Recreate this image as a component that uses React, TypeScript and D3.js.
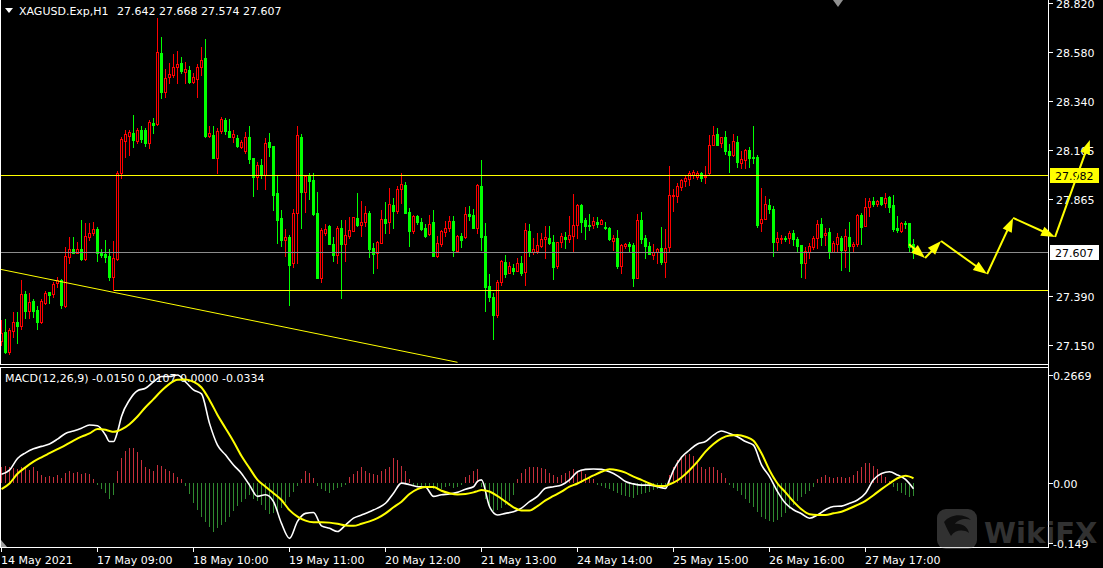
import React from "react";
import * as d3 from "d3";

// ---------------- DATA ----------------
const opens = [
  27.172, 27.215, 27.118, 27.220, 27.261, 27.245, 27.399, 27.318, 27.365, 27.321,
  27.264, 27.357, 27.408, 27.399, 27.451, 27.468, 27.341, 27.582, 27.617, 27.601,
  27.619, 27.569, 27.679, 27.696, 27.715, 27.598, 27.595, 27.585, 27.481, 27.569,
  27.992, 28.146, 28.172, 28.187, 28.148, 28.200, 28.200, 28.138, 28.233, 28.231,
  28.578, 28.387, 28.457, 28.469, 28.509, 28.526, 28.485, 28.493, 28.436, 28.448,
  28.506, 28.550, 28.172, 28.176, 28.062, 28.197, 28.249, 28.195, 28.168, 28.159,
  28.119, 28.100, 28.164, 28.062, 27.972, 28.029, 27.981, 28.140, 28.122, 27.891,
  27.769, 27.663, 27.679, 27.549, 27.793, 28.168, 27.899, 27.976, 27.956, 27.793,
  27.479, 27.699, 27.731, 27.644, 27.590, 27.723, 27.642, 27.684, 27.709, 27.772,
  27.736, 27.749, 27.793, 27.622, 27.598, 27.650, 27.766, 27.753, 27.834, 27.806,
  27.914, 27.932, 27.798, 27.709, 27.780, 27.753, 27.722, 27.691, 27.751, 27.585,
  27.642, 27.704, 27.720, 27.756, 27.611, 27.683, 27.676, 27.788, 27.784, 27.723,
  27.927, 27.683, 27.438, 27.386, 27.297, 27.460, 27.556, 27.504, 27.528, 27.510,
  27.549, 27.508, 27.707, 27.606, 27.608, 27.635, 27.670, 27.675, 27.652, 27.538,
  27.652, 27.679, 27.668, 27.684, 27.736, 27.834, 27.761, 27.736, 27.736, 27.753,
  27.743, 27.728, 27.722, 27.660, 27.675, 27.538, 27.635, 27.642, 27.639, 27.479,
  27.761, 27.673, 27.635, 27.591, 27.604, 27.626, 27.554, 27.631, 27.880, 27.880,
  27.923, 27.953, 27.959, 27.981, 27.972, 27.989, 27.972, 27.989, 28.127, 28.181,
  28.135, 28.164, 28.099, 28.078, 28.142, 28.041, 28.054, 28.102, 28.068, 28.067,
  27.745, 27.767, 27.832, 27.814, 27.655, 27.666, 27.671, 27.675, 27.699, 27.666,
  27.639, 27.552, 27.606, 27.631, 27.671, 27.741, 27.689, 27.701, 27.606, 27.642,
  27.675, 27.614, 27.679, 27.635, 27.644, 27.785, 27.731, 27.823, 27.853, 27.839,
  27.871, 27.842, 27.871, 27.834, 27.720, 27.709, 27.745, 27.745, 27.642,
];
const highs = [
  27.272, 27.276, 27.232, 27.311, 27.311, 27.468, 27.416, 27.403, 27.377, 27.341,
  27.373, 27.414, 27.411, 27.460, 27.484, 27.471, 27.631, 27.679, 27.679, 27.655,
  27.761, 27.748, 27.748, 27.753, 27.728, 27.621, 27.663, 27.621, 27.660, 28.002,
  28.168, 28.200, 28.200, 28.272, 28.208, 28.220, 28.208, 28.249, 28.257, 28.745,
  28.656, 28.496, 28.526, 28.571, 28.584, 28.555, 28.534, 28.513, 28.477, 28.522,
  28.604, 28.643, 28.220, 28.220, 28.208, 28.265, 28.260, 28.252, 28.200, 28.176,
  28.151, 28.192, 28.220, 28.062, 28.046, 28.057, 28.160, 28.184, 28.122, 27.976,
  27.810, 27.715, 27.688, 27.813, 28.220, 28.181, 27.981, 27.989, 27.989, 27.899,
  27.723, 27.740, 27.736, 27.679, 27.731, 27.761, 27.761, 27.777, 27.777, 27.894,
  27.855, 27.829, 27.805, 27.647, 27.658, 27.810, 27.850, 27.919, 27.870, 27.927,
  27.989, 27.948, 27.821, 27.785, 27.785, 27.772, 27.740, 27.785, 27.810, 27.683,
  27.712, 27.756, 27.780, 27.780, 27.688, 27.696, 27.823, 27.829, 27.813, 27.937,
  28.054, 27.745, 27.497, 27.406, 27.468, 27.565, 27.590, 27.554, 27.546, 27.574,
  27.585, 27.745, 27.741, 27.671, 27.699, 27.699, 27.731, 27.731, 27.688, 27.655,
  27.696, 27.702, 27.780, 27.888, 27.839, 27.839, 27.769, 27.790, 27.774, 27.774,
  27.767, 27.751, 27.728, 27.688, 27.712, 27.644, 27.650, 27.655, 27.650, 27.790,
  27.798, 27.689, 27.655, 27.644, 27.622, 27.728, 27.717, 28.026, 27.912, 27.940,
  27.961, 27.981, 28.000, 28.005, 28.002, 27.997, 28.024, 28.176, 28.220, 28.208,
  28.168, 28.194, 28.132, 28.181, 28.171, 28.098, 28.107, 28.116, 28.220, 28.078,
  27.915, 27.878, 27.863, 27.829, 27.701, 27.688, 27.683, 27.709, 27.712, 27.676,
  27.639, 27.631, 27.647, 27.683, 27.761, 27.771, 27.720, 27.720, 27.658, 27.696,
  27.683, 27.715, 27.753, 27.655, 27.788, 27.793, 27.866, 27.866, 27.871, 27.858,
  27.875, 27.894, 27.878, 27.883, 27.780, 27.749, 27.756, 27.748, 27.668,
];
const lows = [
  27.150, 27.113, 27.105, 27.191, 27.162, 27.228, 27.281, 27.281, 27.289, 27.227,
  27.256, 27.349, 27.354, 27.386, 27.435, 27.329, 27.334, 27.549, 27.598, 27.598,
  27.565, 27.565, 27.663, 27.687, 27.562, 27.582, 27.557, 27.468, 27.419, 27.565,
  27.964, 28.070, 28.078, 28.119, 28.135, 28.143, 28.122, 28.111, 28.187, 28.225,
  28.355, 28.360, 28.428, 28.457, 28.428, 28.477, 28.428, 28.431, 28.428, 28.360,
  28.469, 28.168, 28.168, 28.062, 27.989, 28.184, 28.181, 28.164, 28.143, 28.119,
  28.111, 28.086, 28.041, 27.878, 27.910, 27.964, 27.910, 28.073, 27.810, 27.650,
  27.634, 27.585, 27.346, 27.530, 27.549, 27.723, 27.801, 27.862, 27.785, 27.479,
  27.460, 27.688, 27.644, 27.562, 27.552, 27.381, 27.561, 27.671, 27.709, 27.731,
  27.683, 27.731, 27.582, 27.504, 27.525, 27.647, 27.696, 27.699, 27.720, 27.797,
  27.845, 27.797, 27.635, 27.699, 27.741, 27.712, 27.679, 27.688, 27.585, 27.578,
  27.634, 27.683, 27.709, 27.587, 27.606, 27.631, 27.671, 27.761, 27.723, 27.699,
  27.614, 27.318, 27.367, 27.178, 27.289, 27.443, 27.484, 27.504, 27.497, 27.510,
  27.494, 27.443, 27.585, 27.595, 27.598, 27.631, 27.577, 27.644, 27.473, 27.528,
  27.631, 27.626, 27.655, 27.606, 27.671, 27.704, 27.670, 27.712, 27.720, 27.728,
  27.741, 27.715, 27.663, 27.614, 27.528, 27.504, 27.622, 27.611, 27.440, 27.476,
  27.650, 27.577, 27.593, 27.569, 27.549, 27.546, 27.484, 27.606, 27.806, 27.850,
  27.907, 27.927, 27.932, 27.964, 27.959, 27.953, 27.940, 27.985, 28.127, 28.127,
  28.116, 28.083, 27.997, 28.073, 28.021, 28.016, 28.016, 28.021, 28.041, 27.728,
  27.709, 27.766, 27.797, 27.587, 27.614, 27.650, 27.660, 27.647, 27.639, 27.606,
  27.484, 27.479, 27.577, 27.619, 27.622, 27.639, 27.639, 27.577, 27.606, 27.606,
  27.517, 27.530, 27.512, 27.603, 27.635, 27.644, 27.731, 27.780, 27.829, 27.829,
  27.834, 27.823, 27.801, 27.707, 27.704, 27.704, 27.720, 27.606, 27.574,
];
const closes = [
  27.207, 27.118, 27.224, 27.261, 27.243, 27.399, 27.316, 27.360, 27.316, 27.264,
  27.365, 27.403, 27.394, 27.446, 27.468, 27.346, 27.585, 27.617, 27.601, 27.617,
  27.569, 27.683, 27.696, 27.715, 27.598, 27.590, 27.582, 27.481, 27.574, 27.989,
  28.155, 28.181, 28.189, 28.151, 28.200, 28.156, 28.138, 28.239, 28.225, 28.581,
  28.387, 28.452, 28.472, 28.506, 28.521, 28.490, 28.496, 28.436, 28.457, 28.506,
  28.542, 28.172, 28.184, 28.065, 28.197, 28.252, 28.197, 28.168, 28.181, 28.122,
  28.142, 28.164, 28.059, 27.972, 28.029, 27.981, 28.135, 28.119, 27.883, 27.761,
  27.663, 27.679, 27.541, 27.793, 28.176, 27.899, 27.976, 27.951, 27.788, 27.479,
  27.712, 27.715, 27.644, 27.590, 27.723, 27.644, 27.688, 27.712, 27.774, 27.736,
  27.753, 27.793, 27.619, 27.595, 27.655, 27.766, 27.748, 27.839, 27.806, 27.912,
  27.935, 27.797, 27.709, 27.780, 27.753, 27.717, 27.683, 27.740, 27.585, 27.647,
  27.707, 27.720, 27.756, 27.614, 27.683, 27.663, 27.788, 27.782, 27.723, 27.932,
  27.676, 27.435, 27.386, 27.297, 27.456, 27.559, 27.497, 27.536, 27.513, 27.549,
  27.504, 27.712, 27.606, 27.618, 27.637, 27.668, 27.679, 27.647, 27.533, 27.652,
  27.683, 27.668, 27.688, 27.736, 27.834, 27.753, 27.731, 27.731, 27.756, 27.743,
  27.761, 27.720, 27.666, 27.675, 27.538, 27.639, 27.642, 27.635, 27.479, 27.761,
  27.670, 27.635, 27.593, 27.606, 27.619, 27.554, 27.626, 27.883, 27.883, 27.927,
  27.956, 27.967, 27.989, 27.997, 27.989, 27.967, 27.976, 28.127, 28.176, 28.127,
  28.164, 28.099, 28.078, 28.145, 28.046, 28.057, 28.102, 28.065, 28.065, 27.736,
  27.764, 27.839, 27.814, 27.655, 27.671, 27.675, 27.666, 27.699, 27.666, 27.635,
  27.552, 27.609, 27.634, 27.671, 27.741, 27.679, 27.696, 27.606, 27.650, 27.676,
  27.614, 27.683, 27.635, 27.644, 27.785, 27.728, 27.823, 27.852, 27.839, 27.852,
  27.839, 27.866, 27.826, 27.717, 27.712, 27.745, 27.741, 27.631, 27.607,
];

const priceTicks = [28.82, 28.58, 28.34, 28.105, 27.865, 27.39, 27.15];
const priceTickLabels = ["28.820", "28.580", "28.340", "28.105", "27.865", "27.390", "27.150"];

const timeBars = [0, 24, 48, 72, 96, 120, 144, 168, 192, 216];
const timeLabels = [
  "14 May 2021", "17 May 09:00", "18 May 10:00", "19 May 11:00", "20 May 12:00",
  "21 May 13:00", "24 May 14:00", "25 May 15:00", "26 May 16:00", "27 May 17:00",
];

const macdTicks = [0.2669, 0, -0.149];
const macdTickLabels = ["0.2669", "0.00", "-0.149"];

const macdIdx = [
  0, 2, 4, 6, 8, 10, 12, 14, 16, 18, 20, 22, 24, 26, 27, 28, 29, 30, 32, 34,
  36, 38, 40, 42, 44, 46, 48, 50, 52, 54, 56, 58, 60, 62, 64, 66, 68, 70, 72, 74,
  76, 78, 80, 82, 84, 86, 88, 90, 92, 94, 96, 98, 100, 102, 104, 106, 108, 110, 112, 114,
  116, 118, 119, 120, 122, 124, 126, 128, 130, 132, 134, 136, 138, 140, 142, 144, 146, 148, 150, 152,
  154, 156, 158, 160, 162, 164, 166, 167, 168, 170, 172, 174, 176, 178, 180, 182, 184, 186, 188, 190,
  192, 194, 196, 198, 200, 202, 204, 206, 208, 210, 212, 214, 216, 218, 220, 222, 224, 226, 228,
];
const macdMain = [
  0.021, 0.031, 0.060, 0.074, 0.084, 0.090, 0.096, 0.108, 0.122, 0.128, 0.135, 0.143, 0.141, 0.118, 0.102, 0.102, 0.126, 0.164, 0.205, 0.228,
  0.234, 0.250, 0.263, 0.263, 0.267, 0.250, 0.230, 0.220, 0.147, 0.093, 0.069, 0.044, 0.023, -0.006, -0.034, -0.030, -0.047, -0.101, -0.138, -0.096,
  -0.076, -0.074, -0.107, -0.113, -0.121, -0.105, -0.088, -0.080, -0.072, -0.063, -0.051, -0.026, -0.001, -0.005, -0.010, -0.011, -0.034, -0.030, -0.028, -0.024,
  -0.016, -0.010, 0.003, 0.007, -0.059, -0.080, -0.076, -0.072, -0.063, -0.047, -0.034, -0.014, -0.010, -0.006, 0.007, 0.027, 0.033, 0.034, 0.033, 0.027,
  0.017, 0.003, -0.003, -0.006, -0.006, -0.010, -0.014, 0.007, 0.031, 0.063, 0.081, 0.096, 0.102, 0.118, 0.128, 0.122, 0.114, 0.102, 0.093, 0.044,
  0.015, -0.022, -0.051, -0.067, -0.077, -0.088, -0.080, -0.067, -0.059, -0.058, -0.051, -0.043, -0.026, 0.007, 0.023, 0.027, 0.019, 0.008, -0.015,
];
const macdSignal = [
  -0.016, -0.002, 0.022, 0.038, 0.052, 0.063, 0.073, 0.083, 0.093, 0.104, 0.114, 0.122, 0.133, 0.131, 0.128, 0.126, 0.128, 0.132, 0.145, 0.164,
  0.187, 0.207, 0.228, 0.245, 0.255, 0.256, 0.250, 0.236, 0.205, 0.168, 0.135, 0.102, 0.066, 0.036, 0.007, -0.010, -0.026, -0.043, -0.068, -0.084,
  -0.094, -0.098, -0.098, -0.099, -0.102, -0.106, -0.107, -0.102, -0.096, -0.088, -0.076, -0.061, -0.047, -0.028, -0.016, -0.011, -0.011, -0.020, -0.026, -0.029,
  -0.028, -0.024, -0.021, -0.018, -0.022, -0.033, -0.047, -0.061, -0.069, -0.069, -0.058, -0.044, -0.033, -0.022, -0.010, -0.002, 0.008, 0.018, 0.027, 0.033,
  0.031, 0.025, 0.015, 0.007, -0.002, -0.008, -0.008, -0.004, 0.000, 0.013, 0.031, 0.052, 0.077, 0.096, 0.110, 0.117, 0.118, 0.114, 0.104, 0.073,
  0.031, -0.002, -0.024, -0.047, -0.066, -0.078, -0.080, -0.080, -0.076, -0.072, -0.064, -0.055, -0.045, -0.031, -0.016, -0.002, 0.011, 0.017, 0.011,
];
const macdHist = [
  0.040, 0.042, 0.038, 0.036, 0.035, 0.038, 0.036, 0.032, 0.038, 0.030, 0.020, 0.015, 0.016, 0.014, 0.018, 0.012, 0.025, 0.028, 0.025, 0.026, 0.022, 0.025, 0.022, 0.008,
  -0.005, -0.015, -0.025, -0.040, -0.030,
  0.030, 0.060, 0.078, 0.085, 0.085, 0.075, 0.055, 0.040, 0.035, 0.030, 0.045, 0.042, 0.035, 0.030, 0.025, 0.015, 0.008,
  -0.008, -0.028, -0.050, -0.068, -0.085, -0.098, -0.110, -0.122, -0.112, -0.105, -0.098, -0.085, -0.070, -0.058, -0.048, -0.040, -0.030, -0.040, -0.045, -0.055, -0.068, -0.078, -0.075, -0.070, -0.062, -0.050, -0.035, -0.022, -0.008,
  0.010, 0.030, 0.025, 0.012,
  -0.008, -0.015, -0.020, -0.025, -0.018, -0.012, -0.010, -0.005,
  0.015, 0.022, 0.030, 0.038, 0.030, 0.025, 0.022, 0.020, 0.030, 0.035, 0.040, 0.060, 0.055, 0.042, 0.030, 0.010,
  -0.005, -0.010, -0.015, -0.012, -0.008, -0.015, -0.018, -0.015, -0.010, -0.008, -0.012, -0.010, -0.005,
  0.015, 0.020, 0.030, 0.035,
  -0.010, -0.040, -0.060, -0.070, -0.068, -0.062, -0.055, -0.045, -0.030,
  0.010, 0.025, 0.035, 0.038, 0.040, 0.038, 0.036, 0.035, 0.025, 0.018, 0.015, 0.018, 0.025, 0.030, 0.035, 0.030, 0.028, 0.022, 0.015, 0.010,
  -0.005, -0.008, -0.012, -0.015, -0.020, -0.025, -0.030, -0.032, -0.035, -0.038, -0.030, -0.028, -0.025, -0.022, -0.018, -0.015, -0.012, -0.008,
  0.020, 0.040, 0.055, 0.062, 0.068, 0.070, 0.065, 0.050, 0.040, 0.035, 0.038, 0.040, 0.032, 0.025, 0.012,
  -0.005, -0.012, -0.020, -0.030, -0.040, -0.050, -0.060, -0.072, -0.085, -0.090, -0.095, -0.098, -0.092, -0.085, -0.075, -0.065, -0.055, -0.045, -0.035, -0.028, -0.020, -0.010,
  0.010, 0.015, 0.018, 0.015, 0.012, 0.015, 0.014, 0.012, 0.015, 0.018, 0.028, 0.040, 0.048, 0.050, 0.042, 0.035, 0.025,
  0.015, 0.005, -0.010, -0.020, -0.025, -0.030, -0.035, -0.033,
];

const resistancePrice = 27.982;
const supportPrice = 27.419;
const supportStartBar = 28;
const bidPrice = 27.607;
const trendBars = [0, 114];
const trendPrices = [27.519, 27.066];
const arrowBars = [226.9, 230.9, 234.9, 246.4, 252.9, 263.4, 272.1];
const arrowPrices = [27.643, 27.575, 27.658, 27.497, 27.771, 27.678, 28.151];

const symbolTitle = "XAGUSD.Exp,H1";
const ohlcTitle = "27.642 27.668 27.574 27.607";
const macdTitle = "MACD(12,26,9) -0.0150 0.0107 0.0000 -0.0334";

// ---------------- LAYOUT ----------------
const W = 1103;
const H = 568;
const AXIS_X = 1048;
const PRICE_BOTTOM = 364;
const MACD_TOP = 367;
const MACD_BOTTOM = 547;
const FONT = "'DejaVu Sans', Verdana, sans-serif";
const BULL = "#ff0000";
const BEAR = "#00ff00";
const YEL = "#ffff00";

function Arrow({ x1, y1, x2, y2 }: { x1: number; y1: number; x2: number; y2: number }) {
  const dx = x2 - x1;
  const dy = y2 - y1;
  const len = Math.hypot(dx, dy);
  const ux = dx / len;
  const uy = dy / len;
  const hl = 14;
  const hw = 5;
  const bx = x2 - ux * hl;
  const by = y2 - uy * hl;
  const p1 = `${bx - uy * hw},${by + ux * hw}`;
  const p2 = `${bx + uy * hw},${by - ux * hw}`;
  return (
    <g>
      <line x1={x1} y1={y1} x2={bx + ux * 2} y2={by + uy * 2} stroke={YEL} strokeWidth={2} />
      <polygon points={`${x2},${y2} ${p1} ${p2}`} fill={YEL} />
    </g>
  );
}

export default function App() {
  const x = d3.scaleLinear().domain([0, 228]).range([1.5, 913.5]);
  const y = d3.scaleLinear().domain([27.15, 28.82]).range([345.1, 3.07]);
  const ym = d3.scaleLinear().domain([-0.149, 0.2669]).range([542.8, 375]);

  const mainLine = d3
    .line<number>()
    .x((_, k) => x(macdIdx[k]))
    .y((v) => ym(v))
    .curve(d3.curveMonotoneX);

  const candles = opens.map((o, i) => {
    const c = closes[i];
    const cx = Math.round(x(i) - 0.5);
    const hy = Math.round(y(highs[i]));
    const ly = Math.round(y(lows[i]));
    const top = Math.round(y(Math.max(o, c)));
    const bot = Math.round(y(Math.min(o, c)));
    const bull = c >= o;
    const col = bull ? BULL : BEAR;
    return (
      <g key={i}>
        <line x1={cx + 0.5} x2={cx + 0.5} y1={hy} y2={ly + 1} stroke={col} strokeWidth={1} />
        {bull ? (
          <rect x={cx - 0.5} y={top + 0.5} width={2} height={Math.max(bot - top, 0)} fill="#000" stroke={col} strokeWidth={1} />
        ) : (
          <rect x={cx - 1} y={top} width={3} height={Math.max(bot - top + 1, 1)} fill={col} />
        )}
      </g>
    );
  });

  const zeroY = ym(0);
  const hist = macdHist.map((v, i) => {
    const cx = Math.round(x(i) - 0.5) + 0.5;
    return (
      <line
        key={i}
        x1={cx}
        x2={cx}
        y1={Math.round(zeroY)}
        y2={Math.round(ym(v))}
        stroke={v >= 0 ? "#c8303c" : "#2f8a2f"}
        strokeWidth={1}
      />
    );
  });

  const arrows = arrowBars.slice(1).map((b, k) => (
    <Arrow
      key={k}
      x1={x(arrowBars[k])}
      y1={y(arrowPrices[k])}
      x2={x(b)}
      y2={y(arrowPrices[k + 1])}
    />
  ));

  const resY = Math.round(y(resistancePrice)) + 0.5;
  const supY = Math.round(y(supportPrice)) + 0.5;
  const bidY = Math.round(y(bidPrice)) + 0.5;

  return (
    <svg
      width={W}
      height={H}
      style={{ position: "absolute", left: 0, top: 0, background: "#000", display: "block" }}
      fontFamily={FONT}
    >
      <defs>
        <clipPath id="pricePane">
          <rect x={0} y={0} width={AXIS_X} height={PRICE_BOTTOM} />
        </clipPath>
        <clipPath id="macdPane">
          <rect x={0} y={MACD_TOP + 1} width={AXIS_X} height={MACD_BOTTOM - MACD_TOP - 1} />
        </clipPath>
      </defs>
      <rect x={0} y={0} width={W} height={H} fill="#000" />

      {/* price pane */}
      <g clipPath="url(#pricePane)" shapeRendering="crispEdges">
        {candles}
      </g>
      <g clipPath="url(#pricePane)">
        <line x1={x(trendBars[0] - 1)} y1={y(trendPrices[0] + (trendPrices[0] - trendPrices[1]) / (trendBars[1] - trendBars[0]))} x2={x(trendBars[1])} y2={y(trendPrices[1])} stroke={YEL} strokeWidth={1} />
        <line x1={0} x2={AXIS_X} y1={resY} y2={resY} stroke={YEL} strokeWidth={1} shapeRendering="crispEdges" />
        <line x1={x(supportStartBar)} x2={AXIS_X} y1={supY} y2={supY} stroke={YEL} strokeWidth={1} shapeRendering="crispEdges" />
        <line x1={0} x2={AXIS_X} y1={bidY} y2={bidY} stroke="#8c8c8c" strokeWidth={1} shapeRendering="crispEdges" />
      </g>

      {/* title */}
      <polygon points="5,8 13,8 9,13" fill="#fff" />
      <text x={19} y={15} fontSize={11} fill="#fff">{symbolTitle}</text>
      <text x={117} y={15} fontSize={11} fill="#fff">{ohlcTitle}</text>

      {/* chart shift marker */}
      <polygon points="833,0 843,0 838,7" fill="#909090" />

      {/* macd pane */}
      <g clipPath="url(#macdPane)" shapeRendering="crispEdges">{hist}</g>
      <text x={5} y={382} fontSize={11} fill="#fff">{macdTitle}</text>
      <g clipPath="url(#macdPane)">
        <path d={mainLine(macdMain) || ""} fill="none" stroke="#ffffff" strokeWidth={1.6} />
        <path d={mainLine(macdSignal) || ""} fill="none" stroke={YEL} strokeWidth={2} />
      </g>

      {/* frames */}
      <g stroke="#fff" strokeWidth={1} shapeRendering="crispEdges" fill="none">
        <line x1={AXIS_X + 0.5} x2={AXIS_X + 0.5} y1={0} y2={MACD_BOTTOM + 1} />
        <line x1={0} x2={AXIS_X + 1} y1={PRICE_BOTTOM + 0.5} y2={PRICE_BOTTOM + 0.5} />
        <line x1={0} x2={AXIS_X + 1} y1={MACD_TOP + 0.5} y2={MACD_TOP + 0.5} />
        <line x1={0} x2={AXIS_X + 1} y1={MACD_BOTTOM + 0.5} y2={MACD_BOTTOM + 0.5} />
        <line x1={0.5} x2={0.5} y1={0} y2={PRICE_BOTTOM} />
        <line x1={0.5} x2={0.5} y1={MACD_TOP} y2={MACD_BOTTOM} />
      </g>

      {/* price axis */}
      {priceTicks.map((p, k) => {
        const ty = Math.round(y(p)) + 0.5;
        return (
          <g key={k}>
            <line x1={AXIS_X + 1} x2={AXIS_X + 5} y1={ty} y2={ty} stroke="#fff" shapeRendering="crispEdges" />
            <text x={1056} y={ty + 4} fontSize={11} fill="#fff">{priceTickLabels[k]}</text>
          </g>
        );
      })}
      {macdTicks.map((v, k) => {
        const ty = Math.round(ym(v)) + 0.5;
        return (
          <g key={k}>
            <line x1={AXIS_X + 1} x2={AXIS_X + 5} y1={ty} y2={ty} stroke="#fff" shapeRendering="crispEdges" />
            <text x={1053} y={ty + 4} fontSize={11} fill="#fff">{macdTickLabels[k]}</text>
          </g>
        );
      })}
      {/* level labels */}
      <rect x={1050} y={resY - 7.5} width={49} height={15} fill={YEL} />
      <text x={1055} y={resY + 4} fontSize={11} fill="#000">{resistancePrice.toFixed(3)}</text>
      <rect x={1050} y={bidY - 7.5} width={49} height={15} fill="#fff" />
      <text x={1055} y={bidY + 4} fontSize={11} fill="#000">{bidPrice.toFixed(3)}</text>

      {/* time axis */}
      {timeBars.map((b, k) => {
        const tx = Math.round(x(b) - 0.5) + 0.5;
        return (
          <g key={k}>
            <line x1={tx} x2={tx} y1={MACD_BOTTOM + 1} y2={MACD_BOTTOM + 5} stroke="#fff" shapeRendering="crispEdges" />
            <text x={tx - 0.5} y={564} fontSize={11} fill="#fff">{timeLabels[k]}</text>
          </g>
        );
      })}
      <polygon points="1,540 1,547 7,547" fill="#a0a0a0" />

      {/* forecast arrows */}
      {arrows}

      {/* watermark */}
      <g opacity={0.32}>
        <rect x={937} y={509} width={40} height={40} rx={9} fill="#9a9a9a" />
        <path d="M944,522 C950,514 964,513 971,520 C966,518 958,519 955,524 C962,523 968,527 969,533 C963,529 955,530 951,536 C948,531 946,527 944,522 Z" fill="#000" opacity={0.7} />
        <text x={984} y={543} fontSize={29} fontWeight="bold" fill="#9a9a9a" fontFamily="'DejaVu Sans', sans-serif">WikiFX</text>
      </g>
    </svg>
  );
}
